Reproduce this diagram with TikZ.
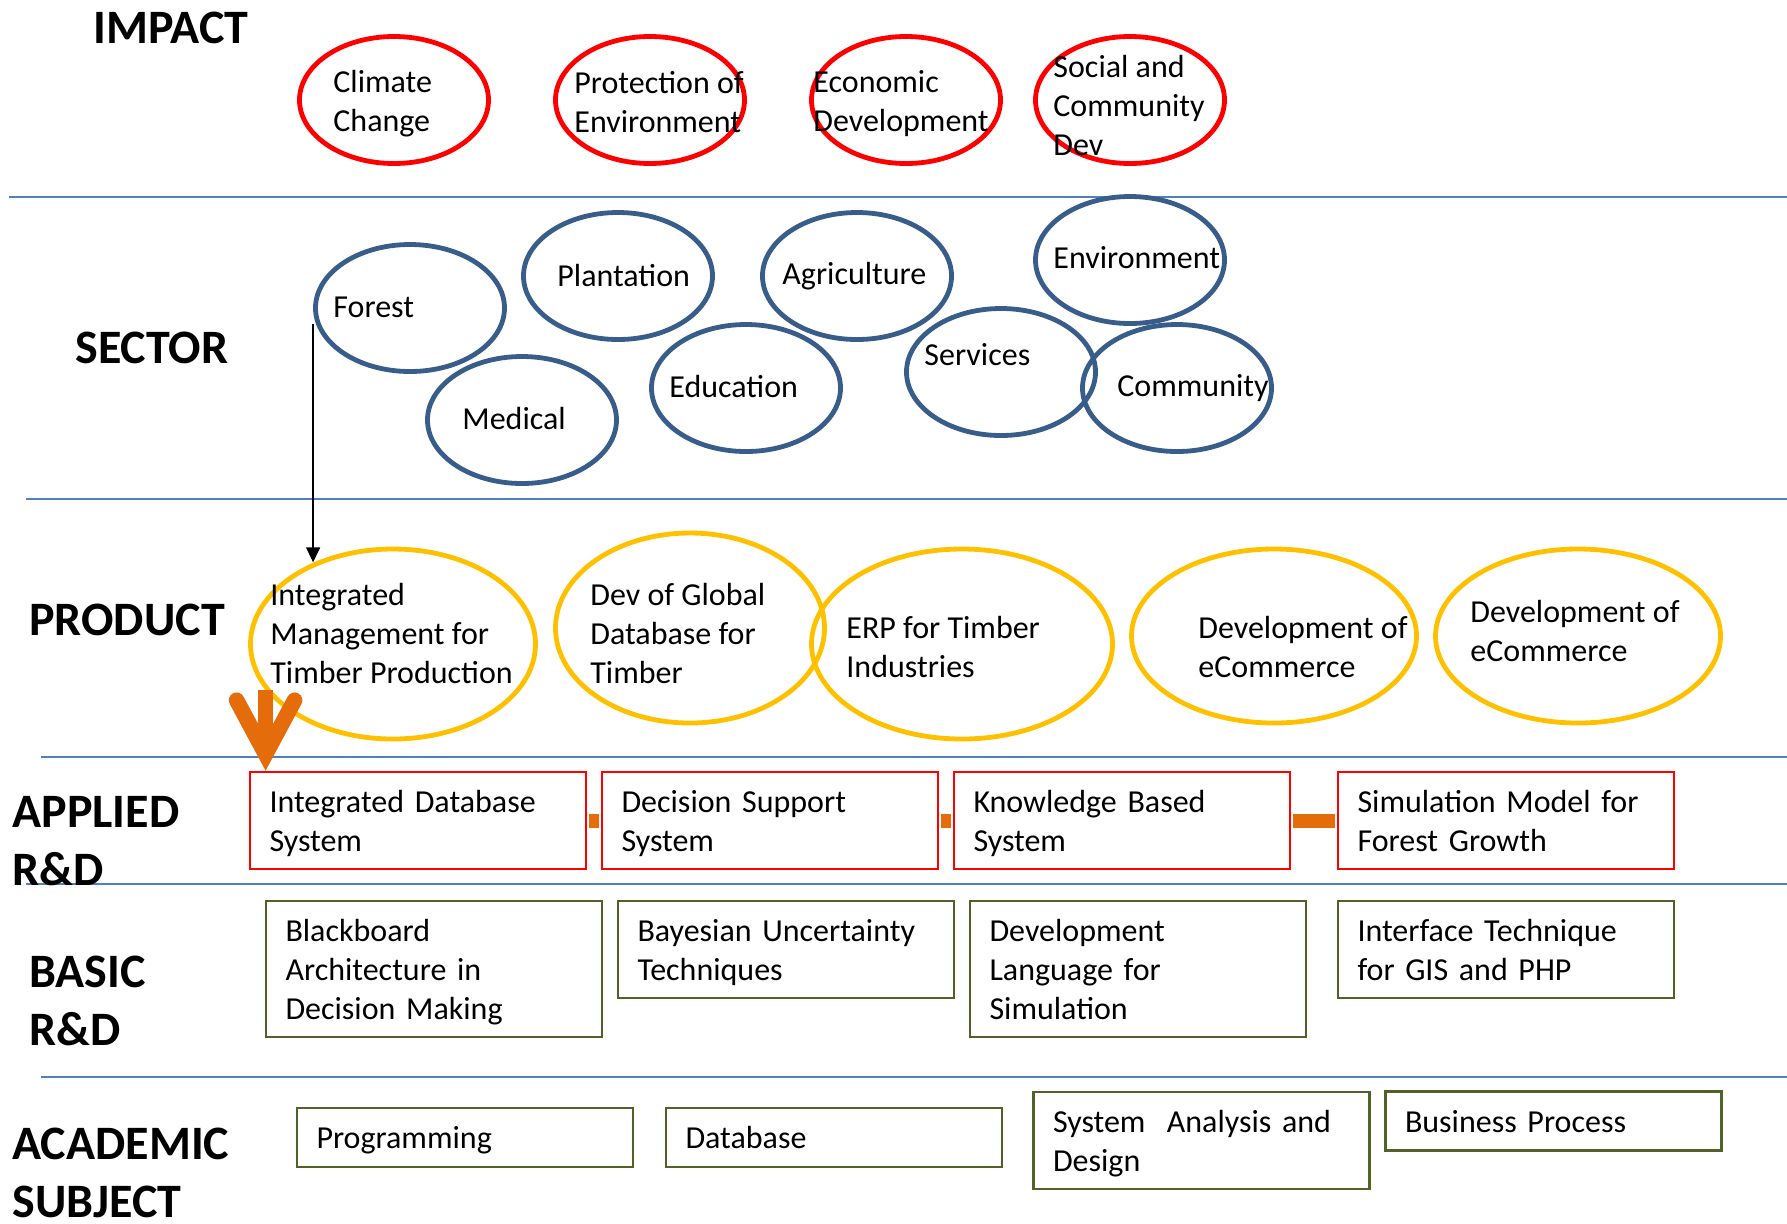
\documentclass[tikz,border=0pt]{standalone}
\usepackage{fontspec}
\setmainfont{Carlito}
\usetikzlibrary{shapes.geometric,arrows.meta}
\definecolor{sepblue}{HTML}{4F81BD}
\definecolor{impred}{HTML}{FF0000}
\definecolor{secblue}{HTML}{385D8A}
\definecolor{prodgold}{HTML}{FFC000}
\definecolor{basgreen}{HTML}{4F6228}
\definecolor{orng}{HTML}{E46C0A}
\newcommand{\bxstrut}{\rule[-4.15pt]{0pt}{19.5pt}}
\begin{document}
\begin{tikzpicture}[x=0.5pt,y=-0.5pt,
  txt/.style={font=\fontsize{16pt}{19.5pt}\selectfont, align=left, inner sep=0pt, anchor=west},
  hdr/.style={font=\fontsize{24pt}{29pt}\selectfont\bfseries, align=left, inner sep=0pt, anchor=west},
  ell/.style={ellipse, draw, line width=2.4pt, inner sep=0pt},
  impactell/.style={ell, draw=impred, minimum width=94.5pt, minimum height=63.5pt},
  sectorell/.style={ell, draw=secblue, minimum width=94.5pt, minimum height=63.5pt},
  prodell/.style={ell, draw=prodgold, minimum height=95pt},
  boxbase/.style={rectangle, line width=1.3pt, inner xsep=9.75pt, inner ysep=0pt,
    text width=148.5pt, minimum width=168pt, align=left, font=\fontsize{16pt}{19.5pt}\selectfont,
    execute at begin node={\bxstrut}, execute at end node={\bxstrut}},
  appbox/.style={boxbase, draw=impred},
  basbox/.style={boxbase, draw=basgreen},
  sepline/.style={sepblue, line width=1.3pt},
  thinarrow/.style={-{Triangle[length=7.5pt,width=7pt]}, line width=0.8pt},
  bigarrow/.style={orng, line width=7.8pt, -{Straight Barb[length=27pt,width=29pt,line cap=round,line join=miter]}},
  orlink/.style={orng, line width=7pt, shorten <=0.65pt, shorten >=0.65pt}
]
\useasboundingbox (0,0) rectangle (1787,1223);

% separator lines
\draw[sepline] (9,197) -- (1787,197);
\draw[sepline] (26,499) -- (1787,499);
\draw[sepline] (41,757) -- (1787,757);
\draw[sepline] (26,884) -- (1787,884);
\draw[sepline] (41,1077) -- (1787,1077);

% headers
\node[hdr] (hImpact) at (93,28) {IMPACT};
\node[hdr] (hSector) at (75,348) {SECTOR};
\node[hdr] (hProduct) at (29,620) {PRODUCT};
\node[hdr] (hApplied) at (12,841) {APPLIED\\R\&D};
\node[hdr] (hBasic) at (29,1001) {BASIC\\R\&D};
\node[hdr] (hAcad) at (12,1173) {ACADEMIC\\SUBJECT};

% impact ellipses
\node[impactell] (climate) at (394,100) {};
\node[impactell] (protect) at (650,100) {};
\node[impactell] (econ) at (906,100) {};
\node[impactell] (social) at (1130,100) {};
\node[txt] (tclimate) at (333,104) {Climate\\Change};
\node[txt] (tprotect) at (574,102) {Protection of\\Environment};
\node[txt] (tecon) at (813,104) {Economic\\Development};
\node[txt] (tsocial) at (1053,105) {Social and\\Community\\Dev};

% sector ellipses
\node[sectorell] (forest) at (410,308) {};
\node[sectorell] (plant) at (618,276) {};
\node[sectorell] (agri) at (857,276) {};
\node[sectorell] (envir) at (1130,260) {};
\node[sectorell] (medic) at (522,420) {};
\node[sectorell] (educ) at (746,388) {};
\node[sectorell] (serv) at (1001,372) {};
\node[sectorell] (commu) at (1177,388) {};
\node[txt] (tforest) at (333,307) {Forest};
\node[txt] (tplant) at (557,275) {Plantation};
\node[txt] (tagri) at (782,276) {Agriculture};
\node[txt] (tenvir) at (1053,258) {Environment};
\node[txt] (tmedic) at (462,418) {Medical};
\node[txt] (teduc) at (669,386) {Education};
\node[txt] (tserv) at (924,355) {Services};
\node[txt] (tcommu) at (1117,388) {Community};

% product ellipses
\node[prodell, minimum width=142.5pt] (prodA) at (393,644) {};
\node[prodell, minimum width=134.5pt] (prodB) at (690,628) {};
\node[prodell, minimum width=150.5pt] (prodC) at (962,644) {};
\node[prodell, minimum width=142.5pt, minimum height=87pt] (prodD) at (1274,636) {};
\node[prodell, minimum width=142.5pt, minimum height=87pt] (prodE) at (1578,636) {};
\node[txt] (tprodA) at (270,633) {Integrated\\Management for\\Timber Production};
\node[txt] (tprodB) at (590,633) {Dev of Global\\Database for\\Timber};
\node[txt] (tprodC) at (846,647) {ERP for Timber\\Industries};
\node[txt] (tprodD) at (1198,647) {Development of\\eCommerce};
\node[txt] (tprodE) at (1470,631) {Development of\\eCommerce};

% applied R&D
\node[appbox, minimum height=48.5pt] (app1) at (418,820.5) {Integrated Database\\System};
\node[appbox, minimum height=48.5pt] (app2) at (770,820.5) {Decision Support\\System};
\node[appbox, minimum height=48.5pt] (app3) at (1122,820.5) {Knowledge Based\\System};
\node[appbox, minimum height=48.5pt] (app4) at (1506,820.5) {Simulation Model for\\Forest Growth};
\draw[orlink] (app1.east) -- (app2.west);
\draw[orlink] (app2.east) -- (app3.west);
\draw[orlink] (app3.east) -- (app4.west);

% basic R&D
\node[basbox, minimum height=68pt] (bas1) at (434,969) {Blackboard\\Architecture in\\Decision Making};
\node[basbox, minimum height=48.5pt] (bas2) at (786,949.5) {Bayesian Uncertainty\\Techniques};
\node[basbox, minimum height=68pt] (bas3) at (1138,969) {Development\\Language for\\Simulation};
\node[basbox, minimum height=48.5pt] (bas4) at (1506,949.5) {Interface Technique\\for GIS and PHP};

% academic subjects
\node[basbox, minimum height=29.5pt] (aca1) at (465,1137.5) {Programming};
\node[basbox, minimum height=29.5pt] (aca2) at (834,1137.5) {Database};
\node[basbox, minimum height=48.5pt] (aca3) at (1201.5,1140.5) {System\ \ Analysis and\\Design};
\node[basbox, minimum height=29.5pt] (aca4) at (1553.5,1121) {Business Process};

% arrows
\draw[thinarrow] ([yshift=-8pt]forest.west) -- (forest.west |- prodA.134);
\draw[bigarrow] (prodA.200) -- (prodA.200 |- app1.north);
\end{tikzpicture}
\end{document}
